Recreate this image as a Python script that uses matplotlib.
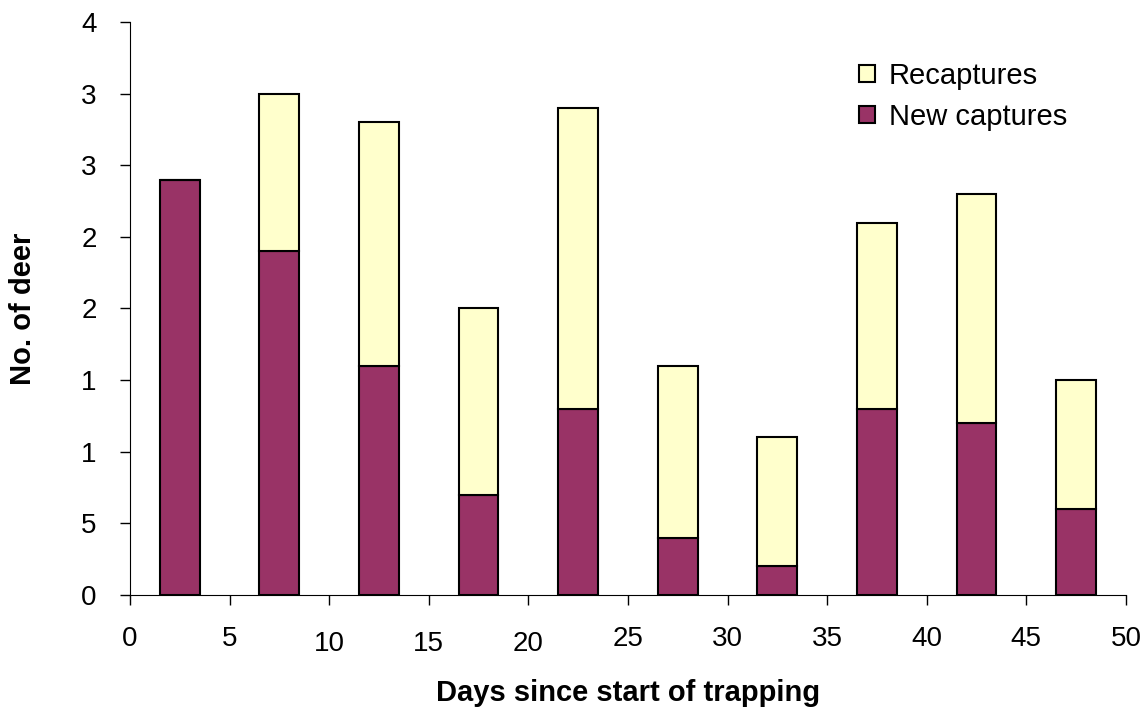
import matplotlib.pyplot as plt
import numpy as np

plt.rcParams['font.family'] = ['Liberation Sans', 'DejaVu Sans']

days = [2.5, 7.5, 12.5, 17.5, 22.5, 27.5, 32.5, 37.5, 42.5, 47.5]
new_captures = [29, 24, 16, 7, 13, 4, 2, 13, 12, 6]
recaptures = [0, 11, 17, 13, 21, 12, 9, 13, 16, 9]
y_ticks = [0, 5, 10, 15, 20, 25, 30, 35, 40]
y_tick_labels = ['0', '5', '1', '1', '2', '2', '3', '3', '4']
x_ticks = [0, 5, 10, 15, 20, 25, 30, 35, 40, 45, 50]

fig = plt.figure(figsize=(11.46, 7.09), dpi=100)
ax = fig.add_axes([0.1134, 0.1608, 0.8691, 0.8082])

ax.bar(days, new_captures, width=2, color='#993366', edgecolor='black',
       linewidth=1.5, label='New captures')
ax.bar(days, recaptures, width=2, bottom=new_captures, color='#FFFFCC',
       edgecolor='black', linewidth=1.5, label='Recaptures')

ax.set_xlim(0, 50)
ax.set_ylim(0, 40)
ax.set_xticks(x_ticks)
ax.set_xticklabels([str(x) for x in x_ticks], fontsize=20)
ax.set_yticks(y_ticks)
ax.set_yticklabels(y_tick_labels, fontsize=20)
ax.tick_params(direction='out', length=7, width=1)
ax.tick_params(axis='x', pad=15)
ax.tick_params(axis='y', pad=17)
# Excel-style staggered labels
for i in [2, 3, 4]:
    ax.xaxis.get_major_ticks()[i].set_pad(19)

ax.spines['top'].set_visible(False)
ax.spines['right'].set_visible(False)

ax.set_xlabel('Days since start of trapping', fontsize=21, fontweight='bold', labelpad=16)
ax.set_ylabel('No. of deer', fontsize=21, fontweight='bold', labelpad=32)

handles, labels = ax.get_legend_handles_labels()
ax.legend(handles[::-1], labels[::-1], loc='upper left', bbox_to_anchor=(0.727, 0.95),
          bbox_transform=fig.transFigure, frameon=False, fontsize=21,
          handlelength=0.55, handleheight=0.55, handletextpad=0.45, labelspacing=0.45)

fig.savefig('out.png', dpi=100)
